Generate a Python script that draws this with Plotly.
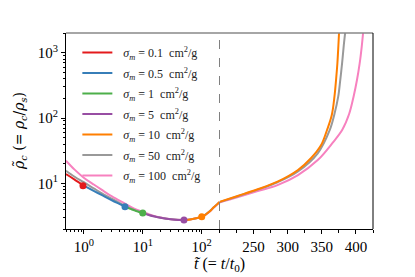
import plotly.graph_objects as go
import numpy as np

# ---- data ----
names = ["0.1", "0.5", "1", "5", "10", "50", "100"]
colors = ["#e41a1c", "#377eb8", "#4daf4a", "#984ea3", "#ff7f00", "#999999", "#f781bf"]

t_red = [0.5, 0.6, 0.7, 0.8, 0.9, 1.0]
rho_red = [13.9, 12.5, 11.4, 10.5, 9.8, 9.2]

t_blue = [1.0, 1.5, 2.0, 3.0, 4.0, 5.0]
rho_blue = [9.2, 7.6, 6.65, 5.5, 4.85, 4.4]

t_green = [5.0, 6.0, 7.0, 8.0, 9.0, 10.0]
rho_green = [4.4, 4.1, 3.9, 3.72, 3.6, 3.5]

t_purple = [10, 13, 16, 20, 25, 30, 40, 50]
rho_purple = [3.5, 3.25, 3.1, 2.97, 2.87, 2.81, 2.75, 2.74]

t_orange_l = [50, 60, 70, 80, 90, 100, 115, 130, 145, 160, 180, 200]
rho_orange_l = [2.74, 2.78, 2.85, 2.93, 3.0, 3.08, 3.3, 3.6, 3.92, 4.3, 4.72, 5.2]
t_orange_r = [200, 226.5, 256, 285, 315, 334, 349, 357.5, 364.5, 368.5, 371, 372.8, 374.2, 375.5]
rho_orange_r = [5.2, 6.4, 8.1, 10.6, 16.0, 24.2, 38.6, 65, 110, 212, 400, 690, 1240, 2300]

t_gray_l = [0.5, 0.7, 1, 1.5, 2, 3, 5, 7, 10, 15, 20, 30, 50, 70, 100, 130, 160, 200]
rho_gray_l = [15.6, 12.6, 10.4, 8.3, 7.1, 5.8, 4.55, 3.95, 3.55, 3.15, 2.98, 2.81, 2.74, 2.85, 3.08, 3.6, 4.3, 5.15]
t_gray_r = [200, 226, 256, 285, 315, 344, 361.5, 368.5, 374, 377, 379.7, 382, 384.8]
rho_gray_r = [5.15, 6.3, 8.0, 10.4, 15.2, 28.8, 65, 115, 212, 381, 690, 1240, 2300]

t_pink_l = [0.5, 0.7, 1, 1.5, 2, 3, 5, 7, 10, 15, 20, 30, 50, 70, 100, 130, 160, 200]
rho_pink_l = [22.2, 16.2, 12.2, 9.5, 8.0, 6.3, 4.9, 4.15, 3.65, 3.2, 3.0, 2.83, 2.75, 2.85, 3.07, 3.55, 4.25, 5.1]
t_pink_r = [200, 226, 256, 285, 315, 344, 366, 380, 390, 396.5, 401.5, 405.5, 408.5, 411]
rho_pink_r = [5.1, 6.1, 7.6, 9.4, 13.4, 22.7, 42, 66, 115, 212, 381, 690, 1240, 2300]

dot_t = [0.97, 5.0, 10.0, 50.0, 100.0]
dot_rho = [9.2, 4.4, 3.5, 2.74, 3.08]

xl_ticks = [1, 10, 100]
xl_text = ["10<sup>0</sup>", "10<sup>1</sup>", "10<sup>2</sup>"]
xr_ticks = [250, 300, 350, 400]
y_ticks = [10, 100, 1000]
y_text = ["10<sup>1</sup>", "10<sup>2</sup>", "10<sup>3</sup>"]

FONT = "Liberation Serif"
TFONT = "DejaVu Serif"

def label(s):
    return "\u00a0\u00a0<i>σ</i><sub><i>m</i></sub> = " + s + "  cm<sup>2</sup>/g"

fig = go.Figure()
LW = 2

# background curves first (pink, gray)
for idx, tl, rl, tr, rr in [(6, t_pink_l, rho_pink_l, t_pink_r, rho_pink_r),
                            (5, t_gray_l, rho_gray_l, t_gray_r, rho_gray_r)]:
    fig.add_trace(go.Scatter(x=tl, y=rl, mode="lines", line=dict(color=colors[idx], width=LW, shape="spline"),
                             name=label(names[idx]), legendgroup=names[idx], legendrank=idx + 1,
                             xaxis="x", yaxis="y"))
    fig.add_trace(go.Scatter(x=tr, y=rr, mode="lines", line=dict(color=colors[idx], width=LW, shape="spline"),
                             showlegend=False, legendgroup=names[idx], legendrank=idx + 1,
                             xaxis="x2", yaxis="y"))

segs = [(t_red, rho_red), (t_blue, rho_blue), (t_green, rho_green), (t_purple, rho_purple), (t_orange_l, rho_orange_l)]
for i, (tt, rr) in enumerate(segs):
    fig.add_trace(go.Scatter(x=tt, y=rr, mode="lines", line=dict(color=colors[i], width=LW, shape="spline"),
                             name=label(names[i]), legendgroup=names[i], legendrank=i + 1,
                             xaxis="x", yaxis="y"))
fig.add_trace(go.Scatter(x=t_orange_r, y=rho_orange_r, mode="lines",
                         line=dict(color=colors[4], width=LW, shape="spline"),
                         showlegend=False, legendgroup=names[4], legendrank=5, xaxis="x2", yaxis="y"))

for i in range(5):
    fig.add_trace(go.Scatter(x=[dot_t[i]], y=[dot_rho[i]], mode="markers",
                             marker=dict(color=colors[i], size=7), showlegend=False,
                             legendgroup=names[i], legendrank=i + 1,
                             xaxis="x", yaxis="y"))

minor_x = [m * 10.0 ** e for e in range(-1, 3) for m in range(2, 10) if 0.5 <= m * 10.0 ** e <= 200]
minor_y = [m * 10.0 ** e for e in range(0, 4) for m in range(2, 10) if 2 <= m * 10.0 ** e <= 2000]

axcommon = dict(showgrid=False, zeroline=False, showline=True, linecolor="black", linewidth=1,
                ticks="outside", ticklen=4, tickcolor="black", tickwidth=1,
                tickfont=dict(family=FONT, size=15, color="black"))

fig.update_layout(
    width=415, height=277,
    margin=dict(l=66, r=42, t=33, b=48),
    paper_bgcolor="white", plot_bgcolor="white",
    xaxis=dict(type="log", domain=[0, 0.5], range=[np.log10(0.5), np.log10(200)], anchor="y",
               tickmode="array", tickvals=xl_ticks, ticktext=xl_text,
               minor=dict(tickmode="array", tickvals=minor_x, ticks="outside", ticklen=2,
                          tickcolor="black", showgrid=False),
               **axcommon),
    xaxis2=dict(domain=[0.5, 1], range=[200, 425], anchor="y",
                tickmode="array", tickvals=xr_ticks,
                minor=dict(tick0=200, dtick=25, ticks="outside", ticklen=2.5,
                           tickcolor="black", showgrid=False),
                **axcommon),
    yaxis=dict(type="log", range=[np.log10(2), np.log10(2000)], anchor="x",
               tickmode="array", tickvals=y_ticks, ticktext=y_text,
               minor=dict(tickmode="array", tickvals=minor_y, ticks="outside", ticklen=2,
                          tickcolor="black", showgrid=False),
               **axcommon),
    legend=dict(x=0.037, y=0.975, xanchor="left", yanchor="top", bgcolor="rgba(0,0,0,0)",
                font=dict(family=FONT, size=12, color="#222"), traceorder="grouped",
                tracegroupgap=1.5, itemwidth=30),
    showlegend=True,
    shapes=[
        dict(type="line", xref="paper", yref="paper", x0=0, x1=1, y0=1, y1=1,
             line=dict(color="#888888", width=1.5)),
        dict(type="line", xref="paper", yref="paper", x0=1, x1=1, y0=0, y1=1,
             line=dict(color="black", width=1)),
        dict(type="line", xref="paper", yref="paper", x0=0.5, x1=0.5, y0=0, y1=1,
             line=dict(color="#808080", width=1, dash="dash")),
    ],
    annotations=[
        dict(text="<i>t̃</i> (= <i>t</i>/<i>t</i><sub>0</sub>)", xref="paper", yref="paper",
             x=0.5, y=-0.18, xanchor="center", yanchor="middle", showarrow=False,
             font=dict(family=FONT, size=16, color="black")),
        dict(text="<i>ρ̃</i><sub><i>c</i></sub> (= <i>ρ</i><sub><i>c</i></sub>/<i>ρ</i><sub><i>s</i></sub>)",
             xref="paper", yref="paper", x=-0.15, y=0.5, xanchor="center", yanchor="middle",
             textangle=-90, showarrow=False, font=dict(family=TFONT, size=14, color="black")),
    ],
)

fig.write_html("out.html", config={"displayModeBar": False},
               post_script="document.body.style.margin='0px';")
